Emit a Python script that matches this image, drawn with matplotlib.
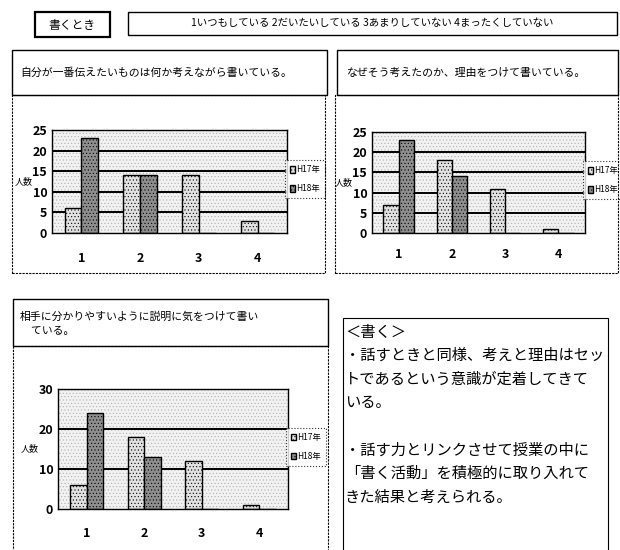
import numpy as np
import matplotlib
matplotlib.use('Agg')
import matplotlib.pyplot as plt
from matplotlib.patches import Rectangle

plt.rcParams['font.family'] = ['Noto Sans CJK JP', 'DejaVu Sans']
plt.rcParams['hatch.linewidth'] = 0.4

W, H = 620, 550

cats = ['1', '2', '3', '4']
years = ['H17年', 'H18年']

# 1: 自分が一番伝えたいもの
q1_h17 = [6, 14, 14, 3]
q1_h18 = [23, 14, 0, 0]
# 2: 理由をつけて
q2_h17 = [7, 18, 11, 1]
q2_h18 = [23, 14, 0, 0]
# 3: 相手に分かりやすいように
q3_h17 = [6, 18, 12, 1]
q3_h18 = [24, 13, 0, 0]

header = '書くとき'
scale_text = '1いつもしている 2だいたいしている 3あまりしていない 4まったくしていない'
titles = ['自分が一番伝えたいものは何か考えながら書いている。',
          'なぜそう考えたのか、理由をつけて書いている。',
          '相手に分かりやすいように説明に気をつけて書い\n　ている。']
note_lines = ['＜書く＞',
              '・話すときと同様、考えと理由はセッ',
              'トであるという意識が定着してきて',
              'いる。',
              '',
              '・話す力とリンクさせて授業の中に',
              '「書く活動」を積極的に取り入れて',
              'きた結果と考えられる。']


def fbox(x0, y0, x1, y1):
    # pixel box (top-left origin) -> figure fraction rect
    return [x0 / W, 1 - y1 / H, (x1 - x0) / W, (y1 - y0) / H]


def frame(fig, x0, y0, x1, y1, ls='-', lw=1.0):
    l, b, w, h = fbox(x0, y0, x1, y1)
    fig.add_artist(Rectangle((l, b), w, h, transform=fig.transFigure,
                             fill=False, edgecolor='black', lw=lw, ls=ls))


def bar_chart(fig, rect, h17, h18, ymax, step, pad):
    ax = fig.add_axes(fbox(*rect))
    x = np.arange(len(cats))
    w = 0.286
    ax.add_patch(Rectangle((0, 0), 1, 1, transform=ax.transAxes,
                           facecolor='#f2f2f2', hatch='.....',
                           edgecolor='#b0b0b0', lw=0, zorder=0))
    for t in np.arange(step, ymax, step):
        ax.axhline(t, color='black', lw=1.4, zorder=1)
    b1 = ax.bar(x - w / 2, h17, w, facecolor='#e2e2e2', edgecolor='black',
                hatch='.....', lw=1.0, zorder=2, label=years[0])
    b2 = ax.bar(x + w / 2, h18, w, facecolor='#8e8e8e', edgecolor='black',
                hatch='.....', lw=1.0, zorder=2, label=years[1])
    ax.set_xlim(-0.5, 3.5)
    ax.set_ylim(0, ymax)
    ax.set_yticks(np.arange(0, ymax + 1, step))
    ax.set_xticks(x)
    ax.set_xticklabels(cats)
    ax.tick_params(length=0, labelsize=9)
    ax.tick_params(axis='x', pad=pad)
    for lab in ax.get_yticklabels() + ax.get_xticklabels():
        lab.set_fontweight('bold')
    for s in ax.spines.values():
        s.set_linewidth(1.0)
    ax.set_ylabel('人数', rotation=0, fontsize=6.5, labelpad=6, va='center')
    leg = ax.legend(handles=[b1, b2], loc='center left',
                    bbox_to_anchor=(0.99, 0.52), fontsize=6, frameon=True,
                    fancybox=False, handlelength=0.6, handleheight=0.8,
                    handletextpad=0.2, borderpad=0.6, labelspacing=1.2,
                    borderaxespad=0)
    leg.get_frame().set_edgecolor('black')
    leg.get_frame().set_linewidth(0.8)
    leg.get_frame().set_linestyle(':')
    return ax


fig = plt.figure(figsize=(6.2, 5.5), dpi=100)

# header boxes
frame(fig, 35, 12, 110, 37, lw=1.6)
fig.text(72 / W, 1 - 25 / H, header, ha='center', va='center', fontsize=8.5)
frame(fig, 128, 12, 617, 35, lw=1.0)
fig.text(372 / W, 1 - 23 / H, scale_text, ha='center', va='center', fontsize=7.5)

# panel frames
frame(fig, 12, 50, 327, 95)
frame(fig, 12, 95, 325, 273, ls=(0, (2, 1)), lw=0.8)
frame(fig, 337, 50, 618, 95)
frame(fig, 335, 95, 618, 273, ls=(0, (2, 1)), lw=0.8)
frame(fig, 13, 299, 328, 346)
frame(fig, 13, 346, 328, 560, ls=(0, (2, 1)), lw=0.8)
frame(fig, 343, 318, 608, 560, lw=0.8)

fig.text(20 / W, 1 - 73 / H, titles[0], ha='left', va='center', fontsize=7.8)
fig.text(346 / W, 1 - 73 / H, titles[1], ha='left', va='center', fontsize=7.8)
fig.text(20 / W, 1 - 324 / H, titles[2], ha='left', va='center', fontsize=7.8,
         linespacing=1.5)

bar_chart(fig, (52, 130, 287, 233), q1_h17, q1_h18, 25, 5, 14)
bar_chart(fig, (372, 132, 585, 233), q2_h17, q2_h18, 25, 5, 11)
bar_chart(fig, (58, 389, 288, 509), q3_h17, q3_h18, 30, 10, 13)

# comment box
for i, line in enumerate(note_lines):
    fig.text(345 / W, 1 - (332 + i * 23.6) / H, line, ha='left', va='center',
             fontsize=11)

fig.savefig('out.png', dpi=100)
